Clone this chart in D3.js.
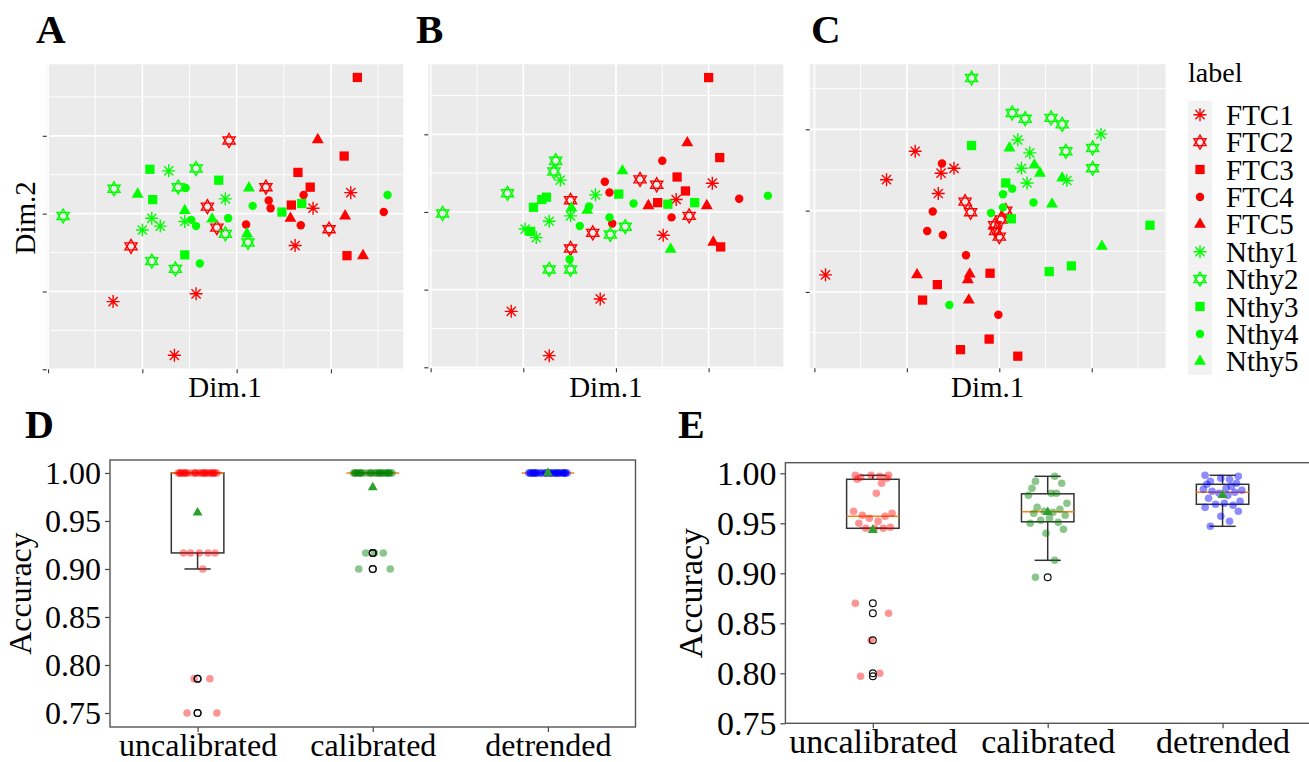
<!DOCTYPE html>
<html>
<head>
<meta charset="utf-8">
<script src="https://cdn.jsdelivr.net/npm/d3@7"></script>
<style>
  body { margin: 0; background: #fff; }
  svg text { font-family: "Liberation Serif", "Times New Roman", serif; fill: #000; }
</style>
</head>
<body>
<div id="fig"></div>
<script>
const W = 1309, H = 762;

const labels = ['FTC1', 'FTC2', 'FTC3', 'FTC4', 'FTC5', 'Nthy1', 'Nthy2', 'Nthy3', 'Nthy4', 'Nthy5'];

const scoresA = [
  ['FTC1', -1.31, -1.13], ['FTC1', -0.66, -1.82], ['FTC1', -0.43, -1.03], ['FTC1', 0.62, -0.41], ['FTC1', 0.81, 0.07], ['FTC1', 1.21, 0.27],
  ['FTC2', -1.12, -0.42], ['FTC2', -0.31, 0.09], ['FTC2', -0.21, -0.18], ['FTC2', -0.08, 0.94], ['FTC2', 0.31, 0.34], ['FTC2', 0.98, -0.20],
  ['FTC3', 1.28, 1.75], ['FTC3', 1.14, 0.74], ['FTC3', 0.65, 0.53], ['FTC3', 0.78, 0.34], ['FTC3', 0.58, 0.11], ['FTC3', 1.17, -0.54],
  ['FTC4', 0.71, 0.24], ['FTC4', 0.34, 0.17], ['FTC4', 0.36, 0.07], ['FTC4', 0.10, -0.14], ['FTC4', 0.68, -0.15], ['FTC4', 1.56, 0.02],
  ['FTC5', 0.86, 0.95], ['FTC5', 1.15, -0.03], ['FTC5', 0.57, -0.06], ['FTC5', 1.34, -0.54],
  ['Nthy1', -0.72, 0.55], ['Nthy1', -0.12, 0.19], ['Nthy1', -0.90, -0.06], ['Nthy1', -0.81, -0.16], ['Nthy1', -1.00, -0.21], ['Nthy1', -0.55, -0.10],
  ['Nthy2', -1.84, -0.03], ['Nthy2', -1.30, 0.32], ['Nthy2', -0.62, 0.34], ['Nthy2', -0.43, 0.58], ['Nthy2', -0.90, -0.61], ['Nthy2', -0.65, -0.71], ['Nthy2', -0.12, -0.26], ['Nthy2', 0.12, -0.37],
  ['Nthy3', -0.92, 0.57], ['Nthy3', -0.89, 0.18], ['Nthy3', -0.19, 0.43], ['Nthy3', -0.55, -0.53], ['Nthy3', 0.48, 0.02], ['Nthy3', 0.69, 0.13],
  ['Nthy4', -0.54, 0.33], ['Nthy4', -0.43, -0.16], ['Nthy4', -0.48, -0.08], ['Nthy4', -0.09, -0.06], ['Nthy4', 0.17, 0.10], ['Nthy4', -0.39, -0.64], ['Nthy4', 1.60, 0.24],
  ['Nthy5', -1.05, 0.25], ['Nthy5', -0.55, 0.04], ['Nthy5', -0.26, -0.07], ['Nthy5', 0.13, 0.33], ['Nthy5', 0.11, -0.26]
];

const scoresB = [
  ['FTC1', -1.13, -1.28], ['FTC1', -0.72, -1.85], ['FTC1', -0.17, -1.12], ['FTC1', 0.51, -0.30], ['FTC1', 0.65, 0.16], ['FTC1', 1.04, 0.37],
  ['FTC2', -0.49, 0.15], ['FTC2', -0.49, -0.47], ['FTC2', -0.25, -0.27], ['FTC2', 0.26, 0.42], ['FTC2', 0.44, 0.35], ['FTC2', 0.79, -0.05],
  ['FTC3', 1.00, 1.73], ['FTC3', 1.12, 0.70], ['FTC3', 0.66, 0.45], ['FTC3', 0.75, 0.27], ['FTC3', 0.45, 0.12], ['FTC3', 1.13, -0.45],
  ['FTC4', 0.50, 0.66], ['FTC4', -0.12, 0.39], ['FTC4', -0.07, 0.25], ['FTC4', -0.04, -0.15], ['FTC4', 0.60, -0.07], ['FTC4', 1.33, 0.17],
  ['FTC5', 0.77, 0.89], ['FTC5', 0.35, 0.08], ['FTC5', 0.98, 0.08], ['FTC5', 1.05, -0.39],
  ['Nthy1', -0.60, 0.41], ['Nthy1', -0.22, 0.22], ['Nthy1', -0.72, -0.12], ['Nthy1', -0.98, -0.22], ['Nthy1', -0.86, -0.33], ['Nthy1', -0.49, -0.05],
  ['Nthy2', -1.87, -0.02], ['Nthy2', -1.17, 0.24], ['Nthy2', -0.65, 0.66], ['Nthy2', -0.67, 0.52], ['Nthy2', -0.72, -0.74], ['Nthy2', -0.49, -0.74], ['Nthy2', -0.06, -0.29], ['Nthy2', 0.10, -0.19],
  ['Nthy3', -0.89, 0.06], ['Nthy3', -0.80, 0.16], ['Nthy3', -0.75, 0.19], ['Nthy3', -0.92, -0.25], ['Nthy3', 0.03, 0.23], ['Nthy3', 0.56, 0.10], ['Nthy3', 0.85, 0.12],
  ['Nthy4', -0.39, -0.18], ['Nthy4', -0.29, 0.07], ['Nthy4', -0.07, -0.07], ['Nthy4', 0.19, 0.11], ['Nthy4', -0.50, -0.61], ['Nthy4', 1.64, 0.21],
  ['Nthy5', 0.07, 0.53], ['Nthy5', -0.48, 0.05], ['Nthy5', -0.31, 0.02], ['Nthy5', 0.59, -0.48]
];

const scoresC = [
  ['FTC1', -1.88, -0.79], ['FTC1', -1.22, 0.38], ['FTC1', -0.91, 0.73], ['FTC1', -0.63, 0.46], ['FTC1', -0.49, 0.52], ['FTC1', -0.66, 0.21],
  ['FTC2', -0.37, 0.11], ['FTC2', -0.31, -0.02], ['FTC2', -0.05, -0.18], ['FTC2', -0.04, -0.25], ['FTC2', 0.00, -0.32], ['FTC2', 0.07, 0.00], ['FTC2', 0.02, -0.11],
  ['FTC3', -0.83, -1.10], ['FTC3', -0.67, -0.91], ['FTC3', -0.42, -1.71], ['FTC3', -0.11, -1.58], ['FTC3', -0.10, -0.77], ['FTC3', 0.20, -1.79],
  ['FTC4', -0.62, 0.58], ['FTC4', -0.72, -0.01], ['FTC4', -0.78, -0.25], ['FTC4', -0.61, -0.30], ['FTC4', -0.36, -0.55], ['FTC4', -0.01, -1.28],
  ['FTC5', -0.89, -0.79], ['FTC5', -0.32, -0.78], ['FTC5', -0.34, -0.85], ['FTC5', -0.33, -1.10],
  ['Nthy1', 0.20, 0.87], ['Nthy1', 0.33, 0.71], ['Nthy1', 0.24, 0.52], ['Nthy1', 0.30, 0.34], ['Nthy1', 0.73, 0.37], ['Nthy1', 1.10, 0.94],
  ['Nthy2', -0.30, 1.63], ['Nthy2', 0.14, 1.20], ['Nthy2', 0.28, 1.13], ['Nthy2', 0.56, 1.14], ['Nthy2', 0.68, 1.06], ['Nthy2', 0.72, 0.73], ['Nthy2', 1.01, 0.77], ['Nthy2', 1.01, 0.52],
  ['Nthy3', -0.30, 0.80], ['Nthy3', 0.07, 0.34], ['Nthy3', 0.13, -0.10], ['Nthy3', 0.54, -0.75], ['Nthy3', 0.78, -0.68], ['Nthy3', 1.63, -0.18],
  ['Nthy4', 0.14, 0.27], ['Nthy4', 0.04, 0.20], ['Nthy4', 0.04, 0.04], ['Nthy4', -0.09, -0.03], ['Nthy4', 0.37, 0.10], ['Nthy4', -0.54, -1.16],
  ['Nthy5', 0.11, 0.77], ['Nthy5', 0.38, 0.56], ['Nthy5', 0.44, 0.46], ['Nthy5', 0.68, 0.40], ['Nthy5', 0.57, 0.08], ['Nthy5', 1.11, -0.44]
];

// ---- classification accuracy, panels D and E ----
const methods = ['uncalibrated', 'calibrated', 'detrended'];
const accTicks = [0.75, 0.80, 0.85, 0.90, 0.95, 1.00];

const accD_uncal = [1, 1, 1, 1, 1, 1, 1, 1, 1, 1, 1, 1, 1, 1, 1, 1, 1, 1, 1, 1, 1, 1, 1, 1, 1,
  0.9167, 0.9167, 0.9167, 0.9167, 0.9167, 0.90, 0.7857, 0.7857, 0.75, 0.75];
const accD_cal = [1, 1, 1, 1, 1, 1, 1, 1, 1, 1, 1, 1, 1, 1, 1, 1, 1, 1, 1, 1, 1, 1, 1, 1, 1,
  0.9167, 0.9167, 0.9167, 0.90, 0.90];
const accD_det = [1, 1, 1, 1, 1, 1, 1, 1, 1, 1, 1, 1, 1, 1, 1, 1, 1, 1, 1, 1, 1, 1, 1, 1, 1, 1, 1, 1, 1, 1];

const accE_uncal = [0.797, 0.800, 0.833, 0.860, 0.870, 0.945, 0.945, 0.945, 0.946, 0.950, 0.952, 0.955, 0.957,
  0.958, 0.960, 0.962, 0.980, 0.990, 0.994, 0.995, 0.996, 0.997, 0.998, 0.998, 0.998];
const accE_cal = [0.896, 0.913, 0.940, 0.944, 0.950, 0.951, 0.953, 0.955, 0.958, 0.960, 0.961, 0.962, 0.964,
  0.966, 0.970, 0.978, 0.980, 0.980, 0.985, 0.990, 0.992, 0.997];
const accE_det = [0.947, 0.952, 0.957, 0.962, 0.966, 0.968, 0.969, 0.970, 0.972, 0.975, 0.978, 0.980, 0.981,
  0.982, 0.983, 0.984, 0.985, 0.987, 0.989, 0.990, 0.992, 0.994, 0.995, 0.997, 0.998];

// fixed horizontal spread for the strip points (fraction of the category step)
const jitter = [-0.07, 0.04, -0.01, 0.09, -0.10, 0.06, -0.04, 0.01, 0.10, -0.08, 0.03, -0.02, 0.07, -0.06, 0.11, -0.11, 0.02, 0.05, -0.09, 0.08];

const svg = d3.select('#fig').append('svg')
  .attr('width', W).attr('height', H);

// ---------- shapes used by ggplot (pch 8, 11, 15, 16, 17) ----------
const red = '#FF0000', green = '#00FF00';
function shapeFor(i) {
  const k = i % 5;
  if (k === 0) {
    const r = 6.5, a = r * 0.707;
    return { d: `M0,${-r}V${r}M${-r},0H${r}M${-a},${-a}L${a},${a}M${-a},${a}L${a},${-a}`, open: true };
  }
  if (k === 1) {
    const R = 7, c = R * 0.866, h = R / 2;
    return { d: `M0,${-R}L${c},${h}L${-c},${h}ZM0,${R}L${c},${-h}L${-c},${-h}Z`, open: true };
  }
  if (k === 2) return { d: d3.symbol(d3.symbolSquare, 86)(), open: false };
  if (k === 3) return { d: d3.symbol(d3.symbolCircle, 56)(), open: false };
  return { d: d3.symbol(d3.symbolTriangle, 62)(), open: false };
}
const colorOf = lab => labels.indexOf(lab) < 5 ? red : green;

function drawMark(g, lab, x, y) {
  const i = labels.indexOf(lab);
  const s = shapeFor(i);
  g.append('path')
    .attr('d', s.d)
    .attr('transform', `translate(${x},${y})`)
    .attr('fill', s.open ? 'none' : colorOf(lab))
    .attr('stroke', s.open ? colorOf(lab) : 'none')
    .attr('stroke-width', 1.4);
}

// ---------- panels A-C ----------
const pcaPanels = [
  { id: 'A', data: scoresA, left: 46.7, right: 403.3, top: 64.3, bottom: 369.3, xd: [-2.014, 1.767], yd: [-2.0, 1.919], lx: 36, ylab: true },
  { id: 'B', data: scoresB, left: 428.3, right: 783.3, top: 64.3, bottom: 368.3, xd: [-2.025, 1.806], yd: [-2.013, 1.901], lx: 416 },
  { id: 'C', data: scoresC, left: 809.7, right: 1165.6, top: 64.3, bottom: 368.3, xd: [-2.051, 1.799], yd: [-1.939, 1.799], lx: 811 }
];

pcaPanels.forEach(p => {
  const x = d3.scaleLinear().domain(p.xd).range([p.left, p.right]);
  const y = d3.scaleLinear().domain(p.yd).range([p.bottom, p.top]);
  const xMaj = d3.range(Math.ceil(p.xd[0]), Math.floor(p.xd[1]) + 1);
  const yMaj = d3.range(Math.ceil(p.yd[0]), Math.floor(p.yd[1]) + 1);
  const xMin = d3.range(Math.ceil(p.xd[0] - 0.5), Math.floor(p.xd[1] - 0.5) + 1).map(v => v + 0.5);
  const yMin = d3.range(Math.ceil(p.yd[0] - 0.5), Math.floor(p.yd[1] - 0.5) + 1).map(v => v + 0.5);

  const g = svg.append('g');
  g.append('rect')
    .attr('x', p.left).attr('y', p.top)
    .attr('width', p.right - p.left).attr('height', p.bottom - p.top)
    .attr('fill', '#EBEBEB');

  // minor then major grid
  g.selectAll('.vmin').data(xMin).enter().append('line')
    .attr('x1', d => x(d)).attr('x2', d => x(d)).attr('y1', p.top).attr('y2', p.bottom)
    .attr('stroke', '#fff').attr('stroke-width', 0.9);
  g.selectAll('.hmin').data(yMin).enter().append('line')
    .attr('y1', d => y(d)).attr('y2', d => y(d)).attr('x1', p.left).attr('x2', p.right)
    .attr('stroke', '#fff').attr('stroke-width', 0.9);
  g.selectAll('.vmaj').data(xMaj).enter().append('line')
    .attr('x1', d => x(d)).attr('x2', d => x(d)).attr('y1', p.top).attr('y2', p.bottom)
    .attr('stroke', '#fff').attr('stroke-width', 1.7);
  g.selectAll('.hmaj').data(yMaj).enter().append('line')
    .attr('y1', d => y(d)).attr('y2', d => y(d)).attr('x1', p.left).attr('x2', p.right)
    .attr('stroke', '#fff').attr('stroke-width', 1.7);

  // axes: ticks only, no labels
  const ax = g.append('g').attr('transform', `translate(0,${p.bottom})`)
    .call(d3.axisBottom(x).tickValues(xMaj).tickFormat('').tickSize(4));
  const ay = g.append('g').attr('transform', `translate(${p.left},0)`)
    .call(d3.axisLeft(y).tickValues(yMaj).tickFormat('').tickSize(4));
  [ax, ay].forEach(a => {
    a.select('.domain').remove();
    a.selectAll('line').attr('stroke', '#333').attr('stroke-width', 1.1);
  });

  const pts = g.append('g');
  p.data.forEach(d => drawMark(pts, d[0], x(d[1]), y(d[2])));

  svg.append('text')
    .attr('x', (p.left + p.right) / 2).attr('y', 397)
    .attr('text-anchor', 'middle').attr('font-size', 29)
    .text('Dim.1');
  if (p.ylab) {
    svg.append('text')
      .attr('transform', `translate(35,${(p.top + p.bottom) / 2 + 1}) rotate(-90)`)
      .attr('text-anchor', 'middle').attr('font-size', 29)
      .text('Dim.2');
  }
  svg.append('text')
    .attr('x', p.lx).attr('y', 43)
    .attr('font-size', 41).attr('font-weight', 'bold')
    .text(p.id);
});

// ---------- legend ----------
const legX = 1188, legY = 101, keyH = 27.4;
svg.append('text').attr('x', legX).attr('y', 82).attr('font-size', 28).text('label');
labels.forEach((lab, i) => {
  const cy = legY + keyH * i + keyH / 2;
  svg.append('rect')
    .attr('x', legX).attr('y', legY + keyH * i)
    .attr('width', 24).attr('height', keyH)
    .attr('fill', '#F2F2F2');
  drawMark(svg, lab, legX + 12, cy);
  svg.append('text')
    .attr('x', legX + 38).attr('y', cy + 10)
    .attr('font-size', 29)
    .text(lab);
});

// ---------- panels D, E ----------
function boxStats(vals) {
  const s = vals.slice().sort(d3.ascending);
  const q1 = d3.quantile(s, 0.25), med = d3.quantile(s, 0.5), q3 = d3.quantile(s, 0.75);
  const iqr = q3 - q1;
  const inside = s.filter(v => v >= q1 - 1.5 * iqr - 1e-9 && v <= q3 + 1.5 * iqr + 1e-9);
  return {
    q1, med, q3,
    lo: d3.min(inside), hi: d3.max(inside),
    fliers: s.filter(v => v < q1 - 1.5 * iqr - 1e-9 || v > q3 + 1.5 * iqr + 1e-9),
    mean: d3.mean(s)
  };
}

const stripColors = ['rgba(255,0,0,0.42)', 'rgba(0,128,0,0.45)', 'rgba(0,0,255,0.45)'];

const boxPanels = [
  { id: 'D', data: [accD_uncal, accD_cal, accD_det], left: 110, right: 635.5, top: 460, bottom: 727,
    yd: [0.7354, 1.0135], fs: 32, ylx: 31, lx: 25, ly: 438 },
  { id: 'E', data: [accE_uncal, accE_cal, accE_det], left: 785.4, right: 1310, top: 462.7, bottom: 723.3,
    yd: [0.75, 1.0106], fs: 34, ylx: 702, lx: 678, ly: 438 }
];

boxPanels.forEach(p => {
  const x = d3.scalePoint().domain(methods).range([p.left, p.right]).padding(0.5);
  const y = d3.scaleLinear().domain(p.yd).range([p.bottom, p.top]);
  const step = x.step(), bw = step * 0.3;
  const g = svg.append('g');

  const ay = g.append('g').attr('transform', `translate(${p.left},0)`)
    .call(d3.axisLeft(y).tickValues(accTicks).tickFormat(d3.format('.2f')).tickSize(5).tickPadding(4));
  const ax = g.append('g').attr('transform', `translate(0,${p.bottom})`)
    .call(d3.axisBottom(x).tickSize(5).tickPadding(1));
  [ax, ay].forEach(a => {
    a.select('.domain').remove();
    a.selectAll('line').attr('stroke', '#444').attr('stroke-width', 1.2);
    a.selectAll('text').attr('font-size', p.fs).attr('font-family', '"Liberation Serif", serif').attr('fill', '#000');
  });

  g.append('rect')
    .attr('x', p.left).attr('y', p.top)
    .attr('width', p.right - p.left).attr('height', p.bottom - p.top)
    .attr('fill', 'none').attr('stroke', '#555').attr('stroke-width', 1.4);

  p.data.forEach((vals, i) => {
    const cx = x(methods[i]);
    const st = boxStats(vals);
    const bg = g.append('g');
    // whiskers and caps
    [[st.q1, st.lo], [st.q3, st.hi]].forEach(([a, b]) => {
      bg.append('line').attr('x1', cx).attr('x2', cx).attr('y1', y(a)).attr('y2', y(b))
        .attr('stroke', '#333').attr('stroke-width', 1.5);
      bg.append('line').attr('x1', cx - bw / 4).attr('x2', cx + bw / 4).attr('y1', y(b)).attr('y2', y(b))
        .attr('stroke', '#333').attr('stroke-width', 1.5);
    });
    bg.append('rect')
      .attr('x', cx - bw / 2).attr('y', y(st.q3))
      .attr('width', bw).attr('height', Math.max(0, y(st.q1) - y(st.q3)))
      .attr('fill', 'none').attr('stroke', '#333').attr('stroke-width', 1.5);
    bg.append('line')
      .attr('x1', cx - bw / 2).attr('x2', cx + bw / 2).attr('y1', y(st.med)).attr('y2', y(st.med))
      .attr('stroke', '#ff7f0e').attr('stroke-width', 1.5);

    // strip points
    g.append('g').selectAll('circle').data(vals).enter().append('circle')
      .attr('cx', (d, j) => cx + jitter[j % jitter.length] * step)
      .attr('cy', d => y(d))
      .attr('r', 3.8)
      .attr('fill', stripColors[i]);

    // fliers and mean
    g.append('g').selectAll('circle').data(st.fliers).enter().append('circle')
      .attr('cx', cx).attr('cy', d => y(d)).attr('r', 3.4)
      .attr('fill', 'none').attr('stroke', '#111').attr('stroke-width', 1.2);
    g.append('path')
      .attr('d', d3.symbol(d3.symbolTriangle, 42)())
      .attr('transform', `translate(${cx},${y(st.mean)})`)
      .attr('fill', '#2ca02c');
  });

  svg.append('text')
    .attr('transform', `translate(${p.ylx},${(p.top + p.bottom) / 2}) rotate(-90)`)
    .attr('text-anchor', 'middle').attr('font-size', p.fs)
    .text('Accuracy');
  svg.append('text')
    .attr('x', p.lx).attr('y', p.ly)
    .attr('font-size', 40).attr('font-weight', 'bold')
    .text(p.id);
});
</script>
</body>
</html>
